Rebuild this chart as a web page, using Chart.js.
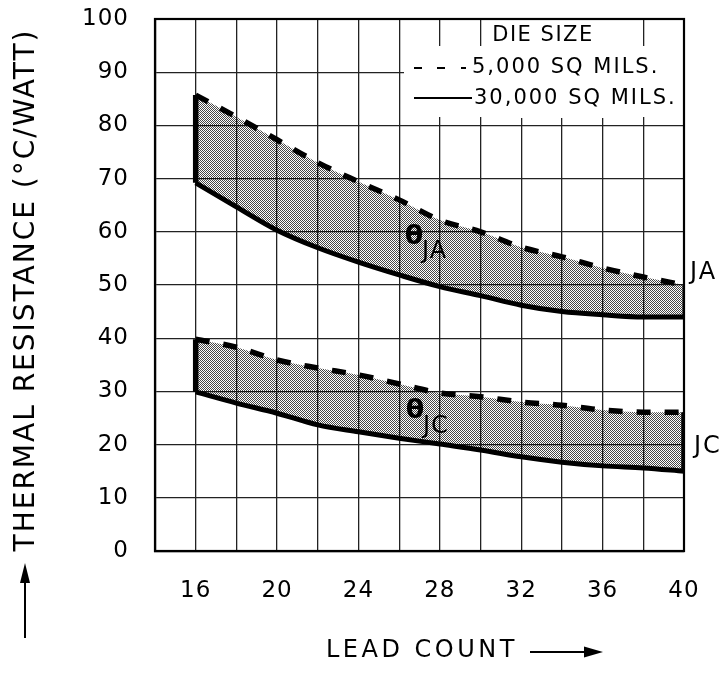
<!DOCTYPE html>
<html>
<head>
<meta charset="utf-8">
<title>Thermal resistance vs lead count</title>
<script src="https://cdn.jsdelivr.net/npm/chart.js@4"></script>
<style>
  html, body { margin: 0; padding: 0; background: #fff; }
  canvas { display: block; }
</style>
</head>
<body>
<canvas id="chart" width="727" height="673"></canvas>
<script>
const lead = [16, 18, 20, 22, 24, 26, 28, 30, 32, 34, 36, 38, 40];
// theta JA, die 5,000 sq mils (dashed) and 30,000 sq mils (solid)
const jaSmallDie = [85.7, 81.6, 77.3, 73.0, 69.4, 66.0, 62.2, 60.0, 57.1, 55.3, 53.2, 51.5, 50.0];
const jaLargeDie = [69.2, 64.7, 60.3, 57.0, 54.3, 51.9, 49.7, 48.0, 46.2, 45.0, 44.4, 44.0, 44.0];
// theta JC
const jcSmallDie = [39.8, 38.3, 35.9, 34.4, 33.1, 31.4, 29.7, 29.0, 28.0, 27.4, 26.5, 26.1, 26.1];
const jcLargeDie = [29.9, 27.8, 25.9, 23.7, 22.4, 21.2, 20.1, 19.0, 17.7, 16.7, 16.0, 15.6, 15.0];
const xLabels = [16, 20, 24, 28, 32, 36, 40];

const FONT = '"DejaVu Sans"';
const last = lead.length - 1;

function pts(values) {
  return lead.map((x, i) => ({ x: x, y: values[i] }));
}
// vertical edge of a band at index i
function edge(i, top, bottom) {
  return [{ x: lead[i], y: top[i] }, { x: lead[i], y: bottom[i] }];
}

// stipple fill, half transparent so the grid shows through
const tile = document.createElement('canvas');
tile.width = 2;
tile.height = 2;
const tctx = tile.getContext('2d');
tctx.fillStyle = 'rgba(0,0,0,0.72)';
tctx.fillRect(0, 0, 1, 1);
tctx.fillRect(1, 1, 1, 1);
const stipple = tctx.createPattern(tile, 'repeat');

const dashedLine = { borderColor: '#000', borderWidth: 5.5, borderDash: [14, 14], pointRadius: 0, cubicInterpolationMode: 'monotone' };
const solidLine = { borderColor: '#000', borderWidth: 5, pointRadius: 0, cubicInterpolationMode: 'monotone', fill: false };
const edgeLine = { borderColor: '#000', borderWidth: 5.5, pointRadius: 0, fill: false };

function text(ctx, str, x, y, font, align, spacing) {
  ctx.save();
  ctx.font = font;
  ctx.letterSpacing = spacing || '0px';
  ctx.textAlign = align || 'left';
  ctx.textBaseline = 'middle';
  ctx.fillStyle = '#000';
  ctx.fillText(str, x, y);
  ctx.restore();
}

function line(ctx, x1, y1, x2, y2, w) {
  ctx.save();
  ctx.strokeStyle = '#000';
  ctx.lineWidth = w;
  ctx.beginPath();
  ctx.moveTo(x1, y1);
  ctx.lineTo(x2, y2);
  ctx.stroke();
  ctx.restore();
}

function tri(ctx, a, b, c) {
  ctx.save();
  ctx.fillStyle = '#000';
  ctx.beginPath();
  ctx.moveTo(a[0], a[1]);
  ctx.lineTo(b[0], b[1]);
  ctx.lineTo(c[0], c[1]);
  ctx.closePath();
  ctx.fill();
  ctx.restore();
}

const decor = {
  id: 'decor',
  beforeDraw(chart) {
    chart.ctx.letterSpacing = '1px';
  },
  beforeDatasetsDraw(chart) {
    const ctx = chart.ctx;
    const a = chart.chartArea;
    // white patch behind the die-size legend
    ctx.save();
    ctx.fillStyle = '#fff';
    ctx.fillRect(486, a.top + 1, 154, 98);
    ctx.fillRect(404, 46, a.right - 405, 71);
    ctx.restore();
  },
  afterDatasetsDraw(chart) {
    const ctx = chart.ctx;
    const a = chart.chartArea;
    ctx.save();
    ctx.strokeStyle = '#000';
    ctx.lineWidth = 2.2;
    ctx.strokeRect(a.left, a.top, a.right - a.left, a.bottom - a.top);
    ctx.restore();

    const f21 = '21px ' + FONT;
    const f24 = '24px ' + FONT;
    // legend
    text(ctx, 'DIE SIZE', 543, 36, f21, 'center', '1.5px');
    line(ctx, 414, 68, 422, 68, 2);
    line(ctx, 437, 68, 445, 68, 2);
    line(ctx, 461, 68, 466, 68, 2);
    text(ctx, '5,000 SQ MILS.', 472, 68, f21, 'left', '2px');
    line(ctx, 414, 98, 472, 98, 2);
    text(ctx, '30,000 SQ MILS.', 474, 99, f21, 'left', '2px');

    // band labels
    const bold = 'bold 27px ' + FONT;
    text(ctx, 'θ', 414, 237, bold, 'center');
    text(ctx, 'JA', 422, 252, f24, 'left', '1px');
    text(ctx, 'θ', 415, 411, bold, 'center');
    text(ctx, 'JC', 423, 427, f24, 'left', '1px');
    text(ctx, 'JA', 690, 273, f24, 'left', '2px');
    text(ctx, 'JC', 694, 447, f24, 'left', '2px');
  },
  afterDraw(chart) {
    const ctx = chart.ctx;
    // y title with arrow
    ctx.save();
    ctx.translate(27, 290);
    ctx.rotate(-Math.PI / 2);
    text(ctx, 'THERMAL RESISTANCE (°C/WATT)', 0, 0, '28px ' + FONT, 'center', '2px');
    ctx.restore();
    line(ctx, 25, 638, 25, 578, 2);
    tri(ctx, [25, 563], [20, 583], [30, 583]);

    // x title with arrow
    text(ctx, 'LEAD COUNT', 326, 651, '24px ' + FONT, 'left', '3.5px');
    line(ctx, 530, 652, 590, 652, 2);
    tri(ctx, [603, 652], [584, 646.5], [584, 657.5]);
  }
};

new Chart(document.getElementById('chart'), {
  type: 'line',
  data: {
    datasets: [
      { label: '5,000 SQ MILS. JA', data: pts(jaSmallDie), fill: 1, backgroundColor: stipple, ...dashedLine },
      { label: '30,000 SQ MILS. JA', data: pts(jaLargeDie), ...solidLine },
      { label: 'JA start', data: edge(0, jaSmallDie, jaLargeDie), ...edgeLine },
      { label: 'JA end', data: edge(last, jaSmallDie, jaLargeDie), ...edgeLine, borderWidth: 3 },
      { label: '5,000 SQ MILS. JC', data: pts(jcSmallDie), fill: 5, backgroundColor: stipple, ...dashedLine },
      { label: '30,000 SQ MILS. JC', data: pts(jcLargeDie), ...solidLine },
      { label: 'JC start', data: edge(0, jcSmallDie, jcLargeDie), ...edgeLine },
      { label: 'JC end', data: edge(last, jcSmallDie, jcLargeDie), ...edgeLine }
    ]
  },
  options: {
    responsive: false,
    animation: false,
    layout: { padding: { top: 19, right: 43, left: 0, bottom: 0 } },
    plugins: {
      legend: { display: false },
      tooltip: { enabled: false }
    },
    scales: {
      x: {
        type: 'linear',
        min: 14,
        max: 40,
        afterFit: (s) => { s.height = 122; },
        ticks: {
          stepSize: 2,
          autoSkip: false,
          maxRotation: 0,
          padding: 0,
          color: '#000',
          font: { family: 'DejaVu Sans', size: 23 },
          callback: (v) => (xLabels.includes(v) ? String(v) : '')
        },
        grid: { color: '#222', lineWidth: 1.3, drawTicks: true, tickLength: 26, tickColor: 'rgba(0,0,0,0)' },
        border: { color: '#000', width: 2.2 }
      },
      y: {
        min: 0,
        max: 100,
        afterFit: (s) => { s.width = 155; },
        ticks: {
          stepSize: 10,
          padding: 0,
          color: '#000',
          font: { family: 'DejaVu Sans', size: 23 }
        },
        grid: { color: '#222', lineWidth: 1.3, drawTicks: true, tickLength: 26, tickColor: 'rgba(0,0,0,0)' },
        border: { color: '#000', width: 2.2 }
      }
    }
  },
  plugins: [decor]
});
</script>
</body>
</html>
